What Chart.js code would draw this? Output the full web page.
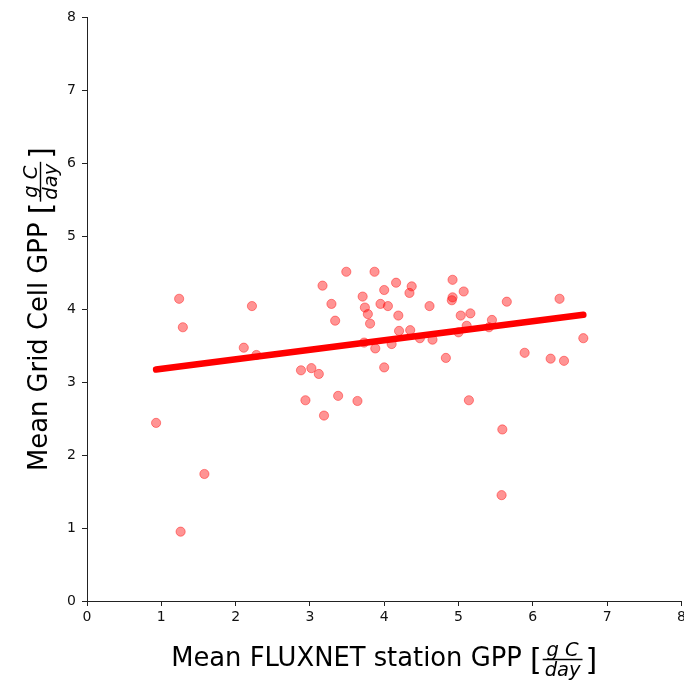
<!DOCTYPE html>
<html>
<head>
<meta charset="utf-8">
<script src="https://cdn.jsdelivr.net/npm/chart.js@4/dist/chart.umd.min.js"></script>
<style>
html,body{margin:0;padding:0;background:#fff;overflow:hidden;width:684px;height:681px;}
#wrap{position:absolute;left:0;top:0;width:687px;height:681px;}
</style>
</head>
<body>
<div id="wrap"><canvas id="c" width="687" height="681"></canvas></div>
<script>
// Mean FLUXNET station GPP (x) and mean grid cell GPP (y), g C / day
const stationGPP = [0.93,1.24,1.29,1.26,1.58,2.11,2.22,2.28,2.88,2.94,3.02,3.12,3.17,3.19,3.29,3.34,3.38,3.49,3.64,3.71,3.74,3.73,3.78,3.81,3.87,3.88,3.95,4.00,4.00,4.05,4.10,4.16,4.19,4.20,4.34,4.35,4.37,4.48,4.61,4.65,4.83,4.92,4.91,4.92,5.00,5.03,5.07,5.11,5.16,5.14,5.41,5.45,5.59,5.58,5.65,5.89,6.24,6.36,6.42,6.68];
const gridCellGPP = [2.44,4.14,3.75,0.95,1.74,3.47,4.04,3.37,3.16,2.75,3.19,3.11,4.32,2.54,4.07,3.84,2.81,4.51,2.74,4.17,4.02,3.54,3.93,3.80,4.51,3.46,4.07,4.26,3.20,4.04,3.52,4.36,3.91,3.70,4.22,3.71,4.31,3.60,4.04,3.58,3.33,4.40,4.12,4.16,3.68,3.91,4.24,3.77,3.94,2.75,3.75,3.85,2.35,1.45,4.10,3.40,3.32,4.14,3.29,3.60];
// fitted trend line end points
const trendX = [0.93, 6.68];
const trendY = [3.17, 3.92];
const tickValues = [0,1,2,3,4,5,6,7,8];

const xTitle = 'Mean FLUXNET station GPP';
const yTitle = 'Mean Grid Cell GPP';
const unitNum = 'g C';
const unitDen = 'day';

const scatterPts = stationGPP.map((x,i)=>({x:x, y:gridCellGPP[i]}));
const trendPts = trendX.map((x,i)=>({x:x, y:trendY[i]}));

const FONT = '"DejaVu Sans", sans-serif';

function drawUnitTitle(ctx, text, cx, base){
  ctx.save();
  ctx.fillStyle = '#000';
  ctx.strokeStyle = '#000';
  ctx.textBaseline = 'alphabetic';
  ctx.textAlign = 'left';
  const mainFont = '25.8px ' + FONT;
  const brFont = '30px ' + FONT;
  const fracFont = 'italic 19.5px ' + FONT;
  ctx.font = mainFont;
  const w1 = ctx.measureText(text + ' ').width;
  ctx.font = brFont;
  const wb1 = ctx.measureText('[').width;
  const wb2 = ctx.measureText(']').width;
  ctx.font = fracFont;
  const wn = ctx.measureText(unitNum).width;
  const wd = ctx.measureText(unitDen).width;
  const pad = 3;
  const wf = Math.max(wn, wd) + 2*pad;
  const total = w1 + wb1 + wf + wb2 + 2;
  let x = cx - total/2;
  ctx.font = mainFont;
  ctx.fillText(text + ' ', x, base);
  x += w1;
  ctx.font = brFont;
  ctx.fillText('[', x, base + 4);
  x += wb1;
  ctx.font = fracFont;
  ctx.fillText(unitNum, x + (wf - wn)/2, base - 10);
  ctx.fillText(unitDen, x + (wf - wd)/2, base + 9.5);
  ctx.lineWidth = 1.4;
  ctx.beginPath();
  ctx.moveTo(x + 1, base - 6.5);
  ctx.lineTo(x + wf - 1, base - 6.5);
  ctx.stroke();
  x += wf + 2;
  ctx.font = brFont;
  ctx.fillText(']', x, base + 4);
  ctx.restore();
}

const titlePlugin = {
  id: 'unitTitles',
  afterDraw(chart){
    const ctx = chart.ctx;
    const a = chart.chartArea;
    drawUnitTitle(ctx, xTitle, (a.left + a.right)/2, 666);
    ctx.save();
    ctx.translate(47, (a.top + a.bottom)/2);
    ctx.rotate(-Math.PI/2);
    drawUnitTitle(ctx, yTitle, 0, 0);
    ctx.restore();
  }
};

const axisCommon = {
  type: 'linear',
  min: 0, max: 8,
  grid: {display: true, drawOnChartArea: false, drawTicks: true, tickLength: 5, tickColor: '#222', tickWidth: 1},
  border: {display: true, color: '#222', width: 1},
};

new Chart(document.getElementById('c'), {
  data: {
    datasets: [
      {
        type: 'line',
        data: trendPts,
        borderColor: '#ff0000',
        borderWidth: 6.5,
        borderCapStyle: 'round',
        pointRadius: 0,
        fill: false,
        order: 0
      },
      {
        type: 'scatter',
        data: scatterPts,
        backgroundColor: 'rgba(255,0,0,0.42)',
        borderColor: 'rgba(255,0,0,0.42)',
        borderWidth: 1,
        pointRadius: 4.6,
        order: 1
      }
    ]
  },
  options: {
    responsive: false,
    animation: false,
    layout: {padding: {left: 0, top: 17, right: 0, bottom: 0}},
    plugins: {legend: {display: false}, tooltip: {enabled: false}},
    scales: {
      x: Object.assign({}, axisCommon, {
        position: 'bottom',
        afterBuildTicks: s => { s.ticks = tickValues.map(v => ({value: v})); },
        ticks: {color: '#111', font: {family: FONT, size: 14}, padding: 3, maxRotation: 0, autoSkip: false},
        afterFit: s => { s.height = 80; s.paddingLeft = 0; s.paddingRight = 0; }
      }),
      y: Object.assign({}, axisCommon, {
        position: 'left',
        afterBuildTicks: s => { s.ticks = tickValues.map(v => ({value: v})); },
        ticks: {color: '#111', font: {family: FONT, size: 14}, padding: 6, autoSkip: false},
        afterFit: s => { s.width = 87; s.paddingTop = 0; s.paddingBottom = 0; }
      })
    }
  },
  plugins: [titlePlugin]
});
</script>
</body>
</html>
